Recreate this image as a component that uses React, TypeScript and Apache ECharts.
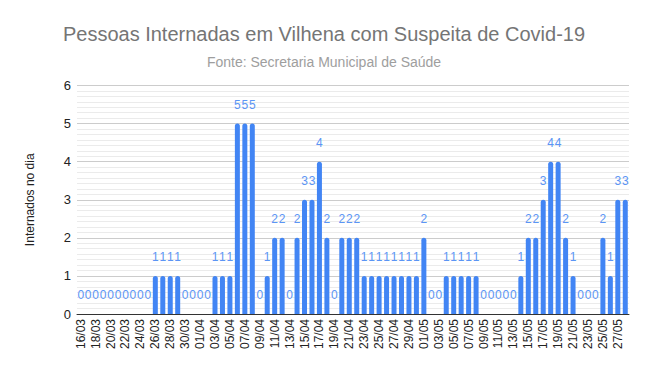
import React, { useEffect, useRef } from "react";
import * as echarts from "echarts";

const categories: string[] = [
  "16/03","17/03","18/03","19/03","20/03","21/03","22/03","23/03","24/03","25/03",
  "26/03","27/03","28/03","29/03","30/03","31/03",
  "01/04","02/04","03/04","04/04","05/04","06/04","07/04","08/04","09/04","10/04",
  "11/04","12/04","13/04","14/04","15/04","16/04","17/04","18/04","19/04","20/04",
  "21/04","22/04","23/04","24/04","25/04","26/04","27/04","28/04","29/04","30/04",
  "01/05","02/05","03/05","04/05","05/05","06/05","07/05","08/05","09/05","10/05",
  "11/05","12/05","13/05","14/05","15/05","16/05","17/05","18/05","19/05","20/05",
  "21/05","22/05","23/05","24/05","25/05","26/05","27/05","28/05",
];

const internados: number[] = [
  0,0,0,0,0,0,0,0,0,0,
  1,1,1,1,0,0,
  0,0,1,1,1,5,5,5,0,1,
  2,2,0,2,3,3,4,2,0,2,
  2,2,1,1,1,1,1,1,1,1,
  2,0,0,1,1,1,1,1,0,0,
  0,0,0,1,2,2,3,4,4,2,
  1,0,0,0,2,1,3,3,
];

const yTicks = { min: 0, max: 6, interval: 1 };

export default function App() {
  const ref = useRef<HTMLDivElement>(null);
  useEffect(() => {
    if (!ref.current) return;
    const chart = echarts.init(ref.current, undefined, { renderer: "svg" });
    chart.setOption({
      animation: false,
      backgroundColor: "#ffffff",
      title: [
        {
          text: "Pessoas Internadas em Vilhena com Suspeita de Covid-19",
          left: "center",
          top: 19,
          textStyle: { fontFamily: "Liberation Sans, Arial", fontSize: 20, fontWeight: "normal", color: "#757575" },
        },
        {
          text: "Fonte: Secretaria Municipal de Saúde",
          left: "center",
          top: 50,
          textStyle: { fontFamily: "Liberation Sans, Arial", fontSize: 14, fontWeight: "normal", color: "#9e9e9e" },
        },
      ],
      grid: { left: 77, right: 19, top: 85.5, bottom: 57, containLabel: false },
      xAxis: {
        type: "category",
        data: categories,
        axisLine: { show: true, lineStyle: { color: "#333333", width: 1 } },
        axisTick: { show: false },
        axisLabel: {
          interval: 1,
          rotate: 90,
          fontFamily: "Liberation Sans, Arial",
          fontSize: 12,
          color: "#222222",
          margin: 5,
        },
      },
      yAxis: {
        type: "value",
        min: yTicks.min,
        max: yTicks.max,
        interval: yTicks.interval,
        name: "Internados no dia",
        nameLocation: "middle",
        nameGap: 41,
        nameTextStyle: { fontFamily: "Liberation Sans, Arial", fontSize: 12, color: "#222222" },
        axisLine: { show: false },
        axisTick: { show: false },
        axisLabel: { fontFamily: "Liberation Sans, Arial", fontSize: 13, color: "#222222", margin: 6 },
        splitLine: { show: true, lineStyle: { color: "#cccccc", width: 1 } },
        minorTick: { show: false, splitNumber: 7 },
        minorSplitLine: { show: true, lineStyle: { color: "#ebebeb", width: 1 } },
      },
      series: [
        {
          type: "bar",
          data: internados,
          barWidth: 5,
          itemStyle: { color: "#4285f4", borderRadius: [2.5, 2.5, 0, 0] },
          label: {
            show: true,
            position: "top",
            distance: 13,
            fontFamily: "Liberation Sans, Arial",
            fontSize: 12,
            color: "#5b95f5",
          },
        },
      ],
    });
    return () => chart.dispose();
  }, []);
  return <div ref={ref} style={{ width: 648, height: 371, position: "absolute", left: 0, top: 0 }} />;
}
